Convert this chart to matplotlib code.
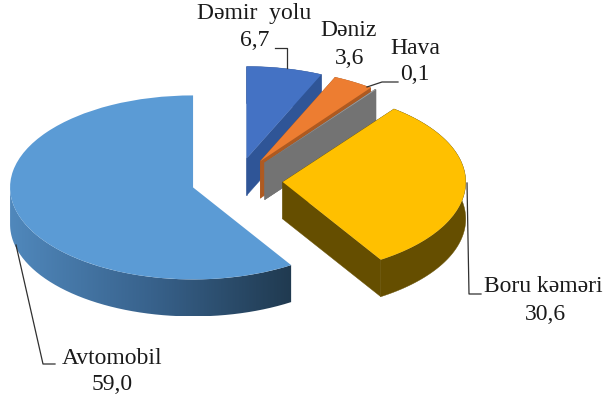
import numpy as np
import matplotlib
matplotlib.use("Agg")
import matplotlib.pyplot as plt
from matplotlib.colors import LinearSegmentedColormap
from matplotlib.path import Path
from matplotlib.patches import PathPatch
from matplotlib.transforms import Affine2D

# pie order, counter clockwise from the top
labels = ["Avtomobil", "Boru kəməri", "Hava", "Dəniz", "Dəmir  yolu"]
values = [59.0, 30.6, 0.1, 3.6, 6.7]
top_colors = ["#5B9BD5", "#FFC000", "#A5A5A5", "#ED7D31", "#4472C4"]
wall_colors = ["#3F6F9B", "#654E00", "#737373", "#AE5A21", "#2F5597"]
explode = [0.25] * 5

# label centres and leader lines, in picture pixels
name_pos = [(112, 358), (543, 287), (415, 48), (349, 30), (254, 14)]
value_pos = [(112, 385), (545, 314), (415, 75), (350, 59), (255, 41)]
leaders = [
    [(16, 245), (43, 364), (55, 364)],
    [(467, 183), (469, 294), (481, 294)],
    [(367, 87), (382, 82), (398, 82)],
    None,
    [(287, 68), (287, 48), (275, 48)],
]

W, H = 603, 401
CX, CY = 237, 181      # pie centre in pixels
RX, RY = 183, 92       # squashed radius in pixels
DEPTH = 37 / RY        # thickness in data units

fig = plt.figure(figsize=(W / 100, H / 100), dpi=100)
ax = fig.add_axes([0, 0, 1, 1])
wedges, _ = ax.pie(values, colors=top_colors, explode=explode, startangle=90,
                   counterclock=True, radius=1, wedgeprops={"linewidth": 0})

# tilt the pie: one data unit is RX wide and RY high
ax.set_aspect("auto")


def arc(w, t1, t2, n=150):
    t = np.radians(np.linspace(t1, t2, n))
    return np.column_stack([w.center[0] + w.r * np.cos(t), w.center[1] + w.r * np.sin(t)])


def sweep(points):
    # strip between a line on the top face and the same line one thickness lower
    return np.vstack([points, points[::-1] - [0, DEPTH]])


# back slices first
draw_order = [4, 3, 2, 1, 0]
for z, i in enumerate(draw_order):
    w = wedges[i]
    w.set_zorder(2 * z + 2)
    rim = arc(w, w.theta1, w.theta2)
    if i == 0:
        # outer wall of the big slice has a left to right shading
        poly = sweep(arc(w, 180, w.theta2))
        poly = np.vstack([poly, poly[:1]])
        clip = PathPatch(Path(poly), transform=ax.transData, fc="none", ec="none")
        ax.add_patch(clip)
        cmap = LinearSegmentedColormap.from_list("wall", ["#5088BC", "#38628C", "#203A50"])
        im = ax.imshow(np.linspace(0, 1, 256)[None, :], cmap=cmap, aspect="auto",
                       extent=[poly[:, 0].min(), poly[:, 0].max(), poly[:, 1].min(), poly[:, 1].max()],
                       zorder=2 * z + 1)
        im.set_clip_path(clip)
    else:
        centre = np.array([w.center])
        for part in [np.vstack([centre, rim[:1]]), np.vstack([centre, rim[-1:]]), rim]:
            poly = sweep(part)
            ax.fill(poly[:, 0], poly[:, 1], color=wall_colors[i], lw=0.3, zorder=2 * z + 1)

ax.set_xlim(-CX / RX, (W - CX) / RX)
ax.set_ylim(-(H - CY) / RY, CY / RY)
ax.axis("off")

# pixel coordinates with the origin at the top left
px = Affine2D().scale(1, -1).translate(0, H)
for i, name in enumerate(labels):
    ax.text(*name_pos[i], name, transform=px, ha="center", va="center", color="#1a1a1a",
            family="Liberation Serif", fontsize=17, zorder=20)
    ax.text(*value_pos[i], f"{values[i]:.1f}".replace(".", ","), transform=px, ha="center", va="center",
            color="#1a1a1a", family="Liberation Serif", fontsize=17, zorder=20)
    if leaders[i]:
        xs, ys = zip(*leaders[i])
        ax.plot(xs, ys, transform=px, color="#303030", lw=0.9, zorder=19, clip_on=False)

fig.savefig("out.png", dpi=100)
